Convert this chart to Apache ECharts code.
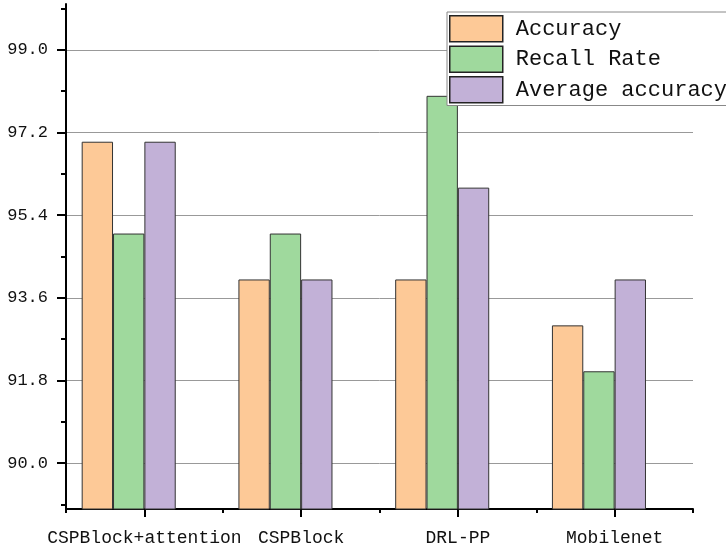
<!DOCTYPE html>
<html>
<head>
<meta charset="utf-8">
<script src="https://cdn.jsdelivr.net/npm/echarts@6/dist/echarts.min.js"></script>
<style>
  html, body { margin: 0; padding: 0; background: #fff; }
  #chart { width: 726px; height: 552px; }
</style>
</head>
<body>
<div id="chart"></div>
<script>
// Model names on the category axis
const categories = ['CSPBlock+attention', 'CSPBlock', 'DRL-PP', 'Mobilenet'];

// Metric values (%) per model
const accuracy = [97, 94, 94, 93];
const recallRate = [95, 95, 98, 92];
const averageAccuracy = [97, 94, 96, 94];

// Labelled y ticks and the minor ticks between them
const yMajorTicks = [90.0, 91.8, 93.6, 95.4, 97.2, 99.0];
const yMinorTicks = [89.1, 90.9, 92.7, 94.5, 96.3, 98.1, 99.9];

const FONT = '"Liberation Mono", "DejaVu Sans Mono", monospace';
const INK = '#111';

const chart = echarts.init(document.getElementById('chart'), null, { renderer: 'canvas' });

const barSeries = (name, data, color) => ({
  name,
  type: 'bar',
  data,
  xAxisIndex: 0,
  yAxisIndex: 0,
  barGap: '0%',
  barCategoryGap: '20%',
  itemStyle: { color, borderColor: '#333', borderWidth: 1 },
  emphasis: { disabled: true }
});

chart.setOption({
  animation: false,
  backgroundColor: '#fff',
  grid: { left: 66, right: 33, top: 4, bottom: 43, containLabel: false },
  legend: {
    data: ['Accuracy', 'Recall Rate', 'Average accuracy'],
    orient: 'vertical',
    left: 447,
    top: 12,
    padding: [3, 12, 2, 2],
    itemWidth: 53,
    itemHeight: 26,
    itemGap: 3,
    icon: 'rect',
    backgroundColor: '#fff',
    borderColor: '#888',
    borderWidth: 1,
    itemStyle: { borderColor: '#222', borderWidth: 1.5 },
    textStyle: { fontFamily: FONT, fontSize: 22, color: INK, padding: [0, 0, 0, 8] }
  },
  xAxis: [
    {
      type: 'category',
      data: categories,
      position: 'bottom',
      axisLine: { show: true, lineStyle: { color: '#000', width: 2 } },
      axisTick: { show: true, alignWithLabel: true, interval: 0, length: 8, lineStyle: { color: '#000', width: 2 } },
      axisLabel: { interval: 0, fontFamily: FONT, fontSize: 18, color: INK, margin: 20 },
      splitLine: { show: false }
    },
    {
      type: 'category',
      data: categories,
      position: 'bottom',
      axisLine: { show: false },
      axisTick: { show: true, alignWithLabel: false, interval: 0, length: 4, lineStyle: { color: '#000', width: 2 } },
      axisLabel: { show: false },
      splitLine: { show: false }
    }
  ],
  yAxis: [
    {
      type: 'value',
      min: 89,
      max: 100,
      position: 'left',
      axisLine: { show: true, lineStyle: { color: '#000', width: 2 } },
      axisTick: { show: true, length: 9, customValues: yMajorTicks, lineStyle: { color: '#000', width: 2 } },
      axisLabel: {
        customValues: yMajorTicks,
        formatter: v => v.toFixed(1),
        fontFamily: FONT,
        fontSize: 17,
        color: INK,
        margin: 18
      },
      splitLine: { show: true, lineStyle: { color: '#999', width: 1 } }
    },
    {
      type: 'value',
      min: 89,
      max: 100,
      position: 'left',
      axisLine: { show: false },
      axisTick: { show: true, length: 5, customValues: yMinorTicks, lineStyle: { color: '#000', width: 2 } },
      axisLabel: { show: false, customValues: yMinorTicks },
      splitLine: { show: false }
    }
  ],
  series: [
    barSeries('Accuracy', accuracy, '#FDC997'),
    barSeries('Recall Rate', recallRate, '#9FD99D'),
    barSeries('Average accuracy', averageAccuracy, '#C2B1D7'),
    // empty fourth slot: keeps the three bars left of each category centre
    {
      name: 'slot',
      type: 'bar',
      data: [],
      xAxisIndex: 0,
      yAxisIndex: 0,
      barGap: '0%',
      barCategoryGap: '20%',
      silent: true
    }
  ]
});
</script>
</body>
</html>
